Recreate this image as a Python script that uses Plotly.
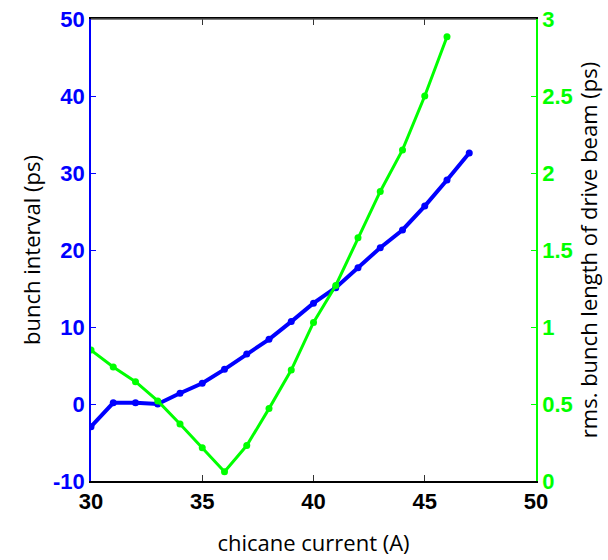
import plotly.graph_objects as go

current = [30, 31, 32, 33, 34, 35, 36, 37, 38, 39, 40, 41, 42, 43, 44, 45, 46, 47]
bunch_interval = [-2.95, 0.15, 0.15, 0.0, 1.4, 2.7, 4.5, 6.5, 8.4, 10.7, 13.1, 15.1, 17.7, 20.3, 22.6, 25.7, 29.1, 32.6]
current_g = [30, 31, 32, 33, 34, 35, 36, 37, 38, 39, 40, 41, 42, 43, 44, 45, 46]
bunch_length = [0.85, 0.74, 0.645, 0.52, 0.37, 0.216, 0.06, 0.23, 0.47, 0.72, 1.03, 1.27, 1.58, 1.88, 2.15, 2.5, 2.885]

xticks = [30, 35, 40, 45, 50]
yticks = [-10, 0, 10, 20, 30, 40, 50]
y2ticks = [0, 0.5, 1, 1.5, 2, 2.5, 3]
y2labels = ["0", "0.5", "1", "1.5", "2", "2.5", "3"]

BLUE = "#0000ff"
GREEN = "#00ff00"

fig = go.Figure()
fig.add_trace(go.Scatter(x=current, y=bunch_interval, mode="lines+markers",
                         line=dict(color=BLUE, width=4),
                         marker=dict(color=BLUE, size=7), yaxis="y", showlegend=False))
fig.add_trace(go.Scatter(x=current_g, y=bunch_length, mode="lines+markers",
                         line=dict(color=GREEN, width=3),
                         marker=dict(color=GREEN, size=7), yaxis="y2", showlegend=False))

tickfont_base = dict(family="Liberation Sans, Arial, sans-serif", size=22)

fig.update_layout(
    width=608, height=560,
    margin=dict(l=91, r=72, t=19, b=79),
    paper_bgcolor="white", plot_bgcolor="white",
    xaxis=dict(range=[30, 50], tickvals=xticks, ticktext=[f"<b>{v}</b>" for v in xticks],
               ticks="inside", ticklen=6, tickcolor="#333", showgrid=False, zeroline=False,
               showline=True, linecolor="black", linewidth=2, mirror="ticks", automargin=False,
               tickfont=dict(tickfont_base, color="black"),
               title=dict(text="chicane current (A)", standoff=22,
                          font=dict(family="Open Sans, sans-serif", size=22, color="black"))),
    yaxis=dict(range=[-10, 50], tickvals=yticks, ticktext=[f"<b>{v}</b>" for v in yticks],
               ticks="inside", ticklen=5, tickcolor=BLUE, showgrid=False, zeroline=False,
               showline=True, linecolor=BLUE, linewidth=1.5, automargin=False,
               tickfont=dict(tickfont_base, color=BLUE),
               title=dict(text="bunch interval (ps)", standoff=6,
                          font=dict(family="Open Sans, sans-serif", size=22, color="black"))),
    yaxis2=dict(range=[0, 3], tickvals=y2ticks, ticktext=[f"<b>{v}</b>" for v in y2labels],
                overlaying="y", side="right", anchor="x",
                ticks="inside", ticklen=5, tickcolor=GREEN, showgrid=False, zeroline=False,
                showline=True, linecolor=GREEN, linewidth=1.5, automargin=False,
                tickfont=dict(tickfont_base, color=GREEN),
                title=dict(text="rms. bunch length of drive beam (ps)", standoff=0,
                           font=dict(family="Open Sans, sans-serif", size=22, color="black"))),
)
fig.add_shape(type="line", xref="paper", yref="paper", x0=0, x1=1, y0=1, y1=1,
              line=dict(color="#555", width=1.5))

fig.write_html("out.html")
